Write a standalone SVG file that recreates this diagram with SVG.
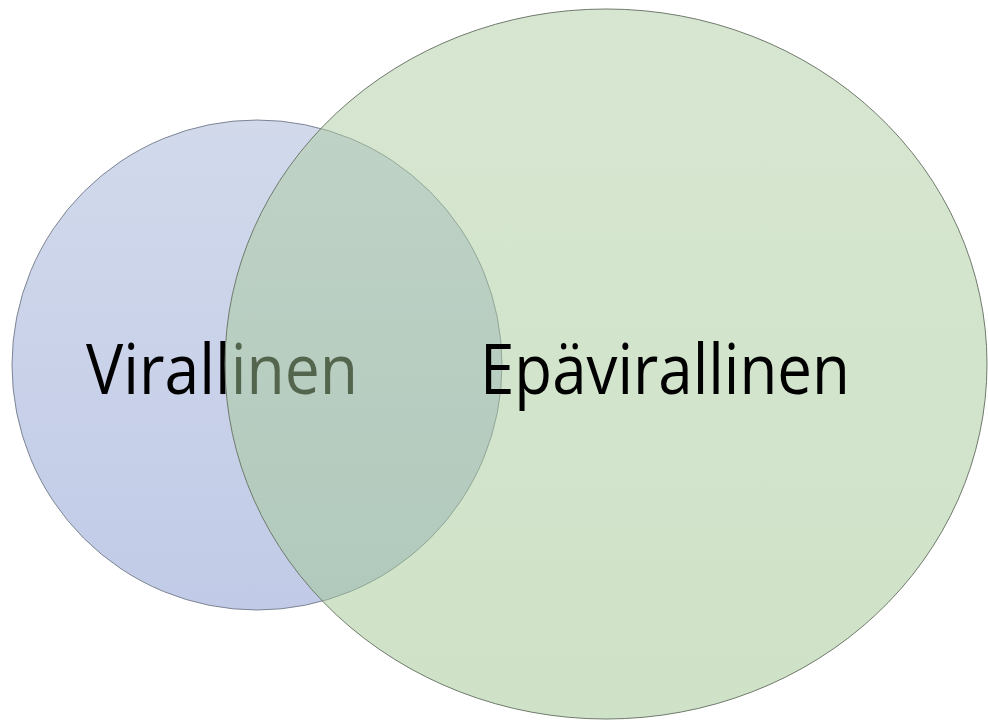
<svg xmlns="http://www.w3.org/2000/svg" width="988" height="722" viewBox="0 0 988 722">
<defs>
<linearGradient id="gBlue" x1="0" y1="0" x2="0" y2="1">
<stop offset="0" stop-color="#d1d9eb"/>
<stop offset="1" stop-color="#c1cbe7"/>
</linearGradient>
<linearGradient id="gGreen" x1="0" y1="0" x2="0" y2="1">
<stop offset="0" stop-color="#afcda3"/>
<stop offset="1" stop-color="#9fc690"/>
</linearGradient>
<style>
.lbl{font-family:"Open Sans","Noto Sans","Liberation Sans",sans-serif;font-size:70px;fill:#000}
</style>
</defs>
<rect width="988" height="722" fill="#ffffff"/>
<g id="virallinen">
<circle cx="257" cy="365" r="245" fill="url(#gBlue)" stroke="#7d8494" stroke-width="1"/>
<text class="lbl" x="86" y="394" textLength="272" lengthAdjust="spacingAndGlyphs">Virallinen</text>
</g>
<g id="epavirallinen">
<ellipse cx="606" cy="364" rx="381" ry="355" fill="url(#gGreen)" fill-opacity="0.5" stroke="#6f7a6c" stroke-width="1"/>
<text class="lbl" x="480" y="394" textLength="370" lengthAdjust="spacingAndGlyphs">Epävirallinen</text>
</g>
</svg>
